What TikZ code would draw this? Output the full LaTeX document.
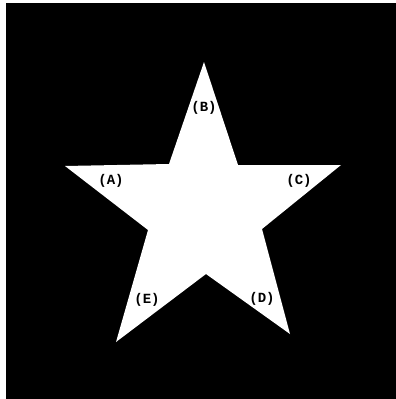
\documentclass[tikz,border=0pt]{standalone}
\usepackage{fontspec}
\setmonofont{Liberation Mono}
\usepackage{tikz}
\usetikzlibrary{positioning}

\begin{document}
\begin{tikzpicture}[x=1pt, y=-1pt, every node/.style={font=\ttfamily\bfseries\fontsize{14}{16}\selectfont, inner sep=0pt}]
  \useasboundingbox (0,0) rectangle (396,399);
  \fill[white] (0,0) rectangle (396,399);
  \fill[black] (6,3) rectangle (396,399);
  % tips and inner corners of the star
  \coordinate (tipB) at (204,62);
  \coordinate (inTR) at (238,165);
  \coordinate (tipC) at (341,165);
  \coordinate (inR) at (262,229);
  \coordinate (tipD) at (290,334);
  \coordinate (inBot) at (206,274);
  \coordinate (tipE) at (116,342);
  \coordinate (inL) at (148,230);
  \coordinate (tipA) at (65,166);
  \coordinate (inTL) at (169,164);
  \fill[white] (tipB) -- (inTR) -- (tipC) -- (inR) -- (tipD) -- (inBot)
    -- (tipE) -- (inL) -- (tipA) -- (inTL) -- cycle;
  % labels
  \foreach \n/\x/\y in {A/111/181, B/204/108, C/299/181, D/262/299, E/147/300}{
    \node (lab\n) at (\x,\y) {(\n)};
  }
\end{tikzpicture}
\end{document}
